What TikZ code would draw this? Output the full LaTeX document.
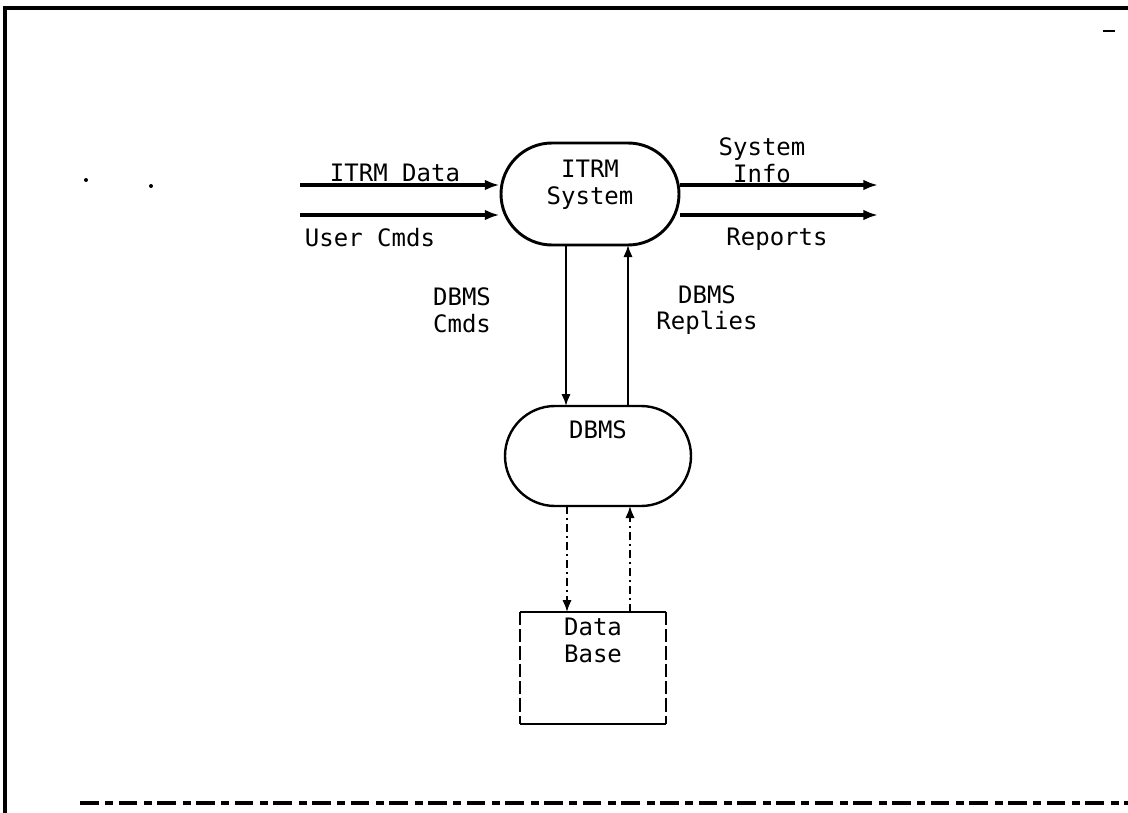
\documentclass[tikz,border=0pt]{standalone}
\usepackage{fontspec}
\setmonofont{DejaVu Sans Mono}
\usetikzlibrary{arrows.meta,shapes.misc}
\newlength{\unitlen}\setlength{\unitlen}{0.75pt}
\tikzset{
  lbl/.style={font=\ttfamily\fontsize{18}{20}\selectfont, inner sep=0pt, align=center},
  term/.style={draw, line width=2.2pt, rounded rectangle, minimum width=178\unitlen, minimum height=102\unitlen, inner sep=0pt},
  flow/.style={line width=3pt, -{Latex[length=11pt,width=8pt]}},
  thinflow/.style={line width=1.4pt, -{Latex[length=9pt,width=7pt]}},
  dflow/.style={line width=1.3pt, dash pattern=on 6pt off 3pt on 1.5pt off 3pt, -{Latex[length=9pt,width=7pt]}},
}
\begin{document}
\begin{tikzpicture}[x=0.75pt,y=-0.75pt]
\useasboundingbox (0,0) rectangle (1128,813);
% frame
\draw[line width=3pt] (1128,8) -- (5,8) -- (5,813);
\draw[line width=2.6pt, dash pattern=on 14pt off 5pt on 6pt off 4pt] (80,803) -- (1128,803);
\draw[line width=2pt] (1103,31) -- (1115,31);
\fill (86,180) circle (2);
\fill (151,186) circle (2);
% nodes
\node[term] (itrm) at (590,194) {};
\node[lbl, anchor=north] (itrmt) at (590,160) {ITRM\\System};
\node[draw, line width=1.8pt, rounded rectangle, minimum width=186\unitlen, minimum height=100\unitlen, inner sep=0pt] (dbms) at (598,456) {};
\node[lbl, anchor=north] (dbmst) at (598,420) {DBMS};
\node[minimum width=145\unitlen, minimum height=112\unitlen, inner sep=0pt] (db) at (593,668) {};
\draw[line width=1.8pt] (db.north west) -- (db.north east);
\draw[line width=1.6pt] (db.south west) -- (db.south east);
\draw[line width=1.3pt, dash pattern=on 10pt off 3pt] (db.north west) -- (db.south west);
\draw[line width=1.3pt, dash pattern=on 10pt off 3pt] (db.north east) -- (db.south east);
\node[lbl, anchor=north] (dbt) at (593,618) {Data\\Base};
% external endpoints
\coordinate (in1) at (300,185);
\coordinate (in2) at (300,215);
\coordinate (out1) at (878,185);
\coordinate (out2) at (878,215);
\draw[flow] (in1) -- (in1 -| itrm.west);
\draw[flow] (in2) -- (in2 -| itrm.west);
\draw[flow] (out1 -| itrm.east) -- (out1);
\draw[flow] (out2 -| itrm.east) -- (out2);
% labels
\node[lbl, anchor=south] (l1) at (395,182) {ITRM Data};
\node[lbl, anchor=north] (l2) at (370,228) {User Cmds};
\node[lbl, anchor=south] (l3) at (762,183) {System\\Info};
\node[lbl, anchor=north] (l4) at (777,228) {Reports};
\node[lbl] (l5) at (462,310) {DBMS\\Cmds};
\node[lbl] (l6) at (707,310) {DBMS\\Replies};
% vertical flows
\draw[thinflow] (566,245) -- (566,406);
\draw[thinflow] (628,406) -- (628,245);
\draw[dflow] (567,506) -- (567,612);
\draw[dflow] (630,612) -- (630,506);
\end{tikzpicture}
\end{document}
